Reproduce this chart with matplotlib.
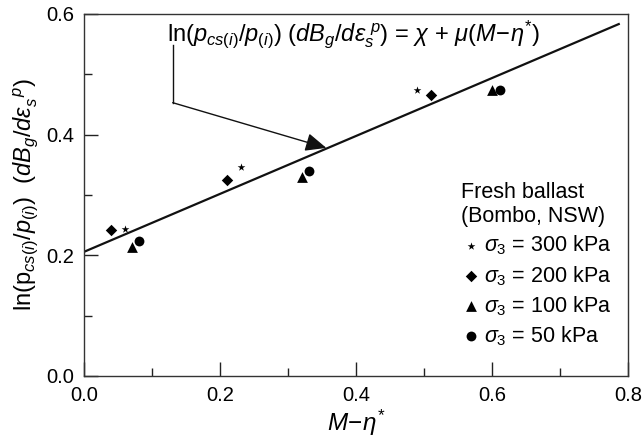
import matplotlib
matplotlib.use("Agg")
import matplotlib.pyplot as plt
import numpy as np

plt.rcParams['font.family'] = ['Liberation Sans', 'DejaVu Sans']
plt.rcParams['mathtext.fontset'] = 'custom'
plt.rcParams['mathtext.rm'] = 'Liberation Sans'
plt.rcParams['mathtext.it'] = 'Liberation Sans:italic'
plt.rcParams['mathtext.sf'] = 'Liberation Sans'

# data: x = M - eta*, y = ln(pcs/p) (dBg/deps)
x_300 = [0.060, 0.230, 0.490]
y_300 = [0.244, 0.346, 0.474]
x_200 = [0.040, 0.210, 0.510]
y_200 = [0.242, 0.325, 0.466]
x_100 = [0.070, 0.320, 0.599]
y_100 = [0.213, 0.330, 0.474]
x_50 = [0.081, 0.330, 0.611]
y_50 = [0.224, 0.340, 0.474]

# fitted line y = chi + mu * x
chi = 0.206
mu = 0.48
fit_x = [0.0, 0.786]

fig = plt.figure(figsize=(6.43, 4.41), dpi=100)
ax = fig.add_axes([0.1311, 0.1474, 0.846, 0.8209])

xs = np.array(fit_x)
ax.plot(xs, chi + mu * xs, color='#111111', lw=1.6, zorder=2)

ax.scatter(x_300, y_300, marker='*', s=34, color='black', lw=0, zorder=3,
           label=r'$\sigma_3$ = 300 kPa')
ax.scatter(x_200, y_200, marker='D', s=34, color='black', lw=0, zorder=3,
           label=r'$\sigma_3$ = 200 kPa')
ax.scatter(x_100, y_100, marker='^', s=60, color='black', lw=0, zorder=3,
           label=r'$\sigma_3$ = 100 kPa')
ax.scatter(x_50, y_50, marker='o', s=50, color='black', lw=0, zorder=3,
           label=r'$\sigma_3$ = 50 kPa')

# equation and leader arrow
ax.text(0.121, 0.567,
        r'ln($p_{cs(i)}/p_{(i)}$) ($dB_g/d\varepsilon_s^{\ p}$) = $\chi$ + $\mu$($M\!-\!\eta^{*}$)',
        fontsize=17, va='center', ha='left')
ax.plot([0.130, 0.130], [0.549, 0.453], color='#111111', lw=1.0)
ax.annotate('', xy=(0.356, 0.378), xytext=(0.130, 0.453),
            arrowprops=dict(arrowstyle='-|>,head_length=0.8,head_width=0.35',
                            color='#111111', lw=1.0, mutation_scale=16,
                            shrinkA=0, shrinkB=0))

leg = ax.legend(title='Fresh ballast\n(Bombo, NSW)', frameon=False,
                loc='upper left', bbox_to_anchor=(0.673, 0.565),
                fontsize=15.5, title_fontsize=15.5, handletextpad=0.15,
                handlelength=0.9, labelspacing=0.3, borderpad=0,
                alignment='left', markerscale=1.0)

ax.set_xlim(0, 0.8)
ax.set_ylim(0, 0.6)
ax.set_xticks([0.0, 0.2, 0.4, 0.6, 0.8])
ax.set_yticks([0.0, 0.2, 0.4, 0.6])
ax.set_xticks([0.1, 0.3, 0.5, 0.7], minor=True)
ax.set_yticks([0.1, 0.3, 0.5], minor=True)
ax.xaxis.set_major_formatter(matplotlib.ticker.FormatStrFormatter('%.1f'))
ax.yaxis.set_major_formatter(matplotlib.ticker.FormatStrFormatter('%.1f'))
ax.tick_params(which='both', direction='in', labelsize=14.5, width=1.0,
               color='#222222', top=False, right=False)
ax.tick_params(which='major', length=10, pad=7)
ax.tick_params(which='minor', length=5.5)
for s in ax.spines.values():
    s.set_linewidth(1.0)
    s.set_color('#333333')

ax.set_xlabel(r'$M\!-\!\eta^{*}$', fontsize=17.5, labelpad=2)
ax.set_ylabel(r'ln(p$_{cs(i)}$/$p_{(i)}$)  ($dB_g/d\varepsilon_s^{\ \ p}$)',
              fontsize=17, labelpad=5)

fig.savefig('out.png', dpi=100)
